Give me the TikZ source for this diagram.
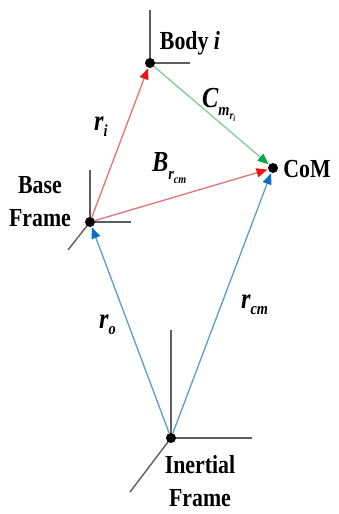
\documentclass[tikz,border=0pt]{standalone}
\usepackage{fontspec}
\setmainfont{Liberation Serif}
\usetikzlibrary{arrows.meta}
\definecolor{frm}{RGB}{95,95,95}
\definecolor{redln}{RGB}{228,115,115}
\definecolor{redhd}{RGB}{235,20,20}
\definecolor{grnln}{RGB}{130,205,150}
\definecolor{grnhd}{RGB}{0,170,75}
\definecolor{bluln}{RGB}{95,155,205}
\definecolor{bluhd}{RGB}{10,110,195}
\newcommand\bigf{\fontsize{26}{33}\selectfont\bfseries}
\newcommand\mathf{\fontsize{29}{33}\selectfont\bfseries\itshape}
\newcommand\subf{\fontsize{17}{19}\selectfont\bfseries\itshape}
\newcommand\subsubf{\fontsize{12}{14}\selectfont\bfseries\itshape}
\begin{document}
\begin{tikzpicture}[x=1pt,y=-1pt,
  dot/.style={circle,fill=black,inner sep=0pt,minimum size=10pt},
  frameline/.style={draw=frm,line width=1.4pt},
  lbl/.style={font=\bigf,xscale=0.84,inner sep=0pt,align=center},
  mlbl/.style={font=\mathf,xscale=0.84,inner sep=0pt,anchor=base west},
  vec/.style={line width=1.3pt,shorten >=0.5pt},
  redv/.style={vec,draw=redln,-{Triangle[length=11pt,width=9pt,color=redhd]}},
  grnv/.style={vec,draw=grnln,-{Triangle[length=11pt,width=9pt,color=grnhd]}},
  bluv/.style={vec,draw=bluln,-{Triangle[length=11pt,width=9pt,color=bluhd]}}]
\useasboundingbox[fill=white] (0,0) rectangle (339,514);
% frame axes
\coordinate (bodyU) at (150,10);
\coordinate (bodyR) at (190,63);
\coordinate (baseU) at (90,170);
\coordinate (baseR) at (131,222);
\coordinate (baseD) at (68,250);
\coordinate (inerU) at (171,330);
\coordinate (inerR) at (252,438);
\coordinate (inerD) at (130,492);
\coordinate (bodyC) at (150,63);
\coordinate (baseC) at (90,222);
\coordinate (inerC) at (171,438);
\draw[frameline] (bodyU) -- (bodyC) -- (bodyR);
\draw[frameline] (baseU) -- (baseC) -- (baseR);
\draw[frameline] (baseC) -- (baseD);
\draw[frameline] (inerU) -- (inerC) -- (inerR);
\draw[frameline] (inerC) -- (inerD);
% points
\node[dot] (body) at (bodyC) {};
\node[dot] (base) at (baseC) {};
\node[dot] (iner) at (inerC) {};
\node[dot] (com) at (273,168) {};
% vectors
\draw[redv] (base) -- (body);
\draw[grnv] (body) -- (com);
\draw[redv] (base) -- (com);
\draw[bluv] (iner) -- (base);
\draw[bluv] (iner) -- (com);
% texts
\node[lbl] (tbody) at (190,43) {Body \textit{i}};
\node[lbl] (tcom) at (307,169) {CoM};
\node[lbl] (tbase) at (40,202) {Base\\Frame};
\node[lbl] (tiner) at (200,481) {Inertial\\Frame};
\node[mlbl] (lri) at (94,130) {r\raisebox{-6pt}{\subf i}};
\node[mlbl] (lc) at (202,107) {C\raisebox{-8pt}{\subf m\raisebox{-4pt}{\subsubf r\raisebox{-2pt}{\fontsize{8}{9}\selectfont i}}}};
\node[mlbl] (lb) at (152,171) {B\raisebox{-8pt}{\subf r\raisebox{-4pt}{\subsubf cm}}};
\node[mlbl] (lro) at (99,328) {r\raisebox{-6pt}{\subf o}};
\node[mlbl] (lrcm) at (241,308) {r\raisebox{-6pt}{\subf cm}};
\end{tikzpicture}
\end{document}
